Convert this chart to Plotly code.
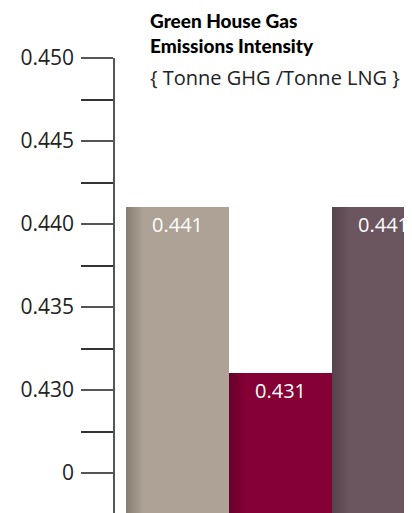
import plotly.graph_objects as go

categories = ["A", "B", "C"]
values = [0.441, 0.431, 0.441]
labels = ["0.441", "0.431", "0.441"]
tick_vals = [0.425, 0.430, 0.435, 0.440, 0.445, 0.450]
tick_text = ["0", "0.430", "0.435", "0.440", "0.445", "0.450"]
minor_vals = [0.4275, 0.4325, 0.4375, 0.4425, 0.4475]

dark = [(137, 127, 118), (106, 0, 45), (86, 68, 78)]
main = [(173, 162, 149), (133, 0, 53), (107, 85, 94)]

fig = go.Figure()
steps = 8
for k in range(steps + 1):
    t = k / steps
    cols = []
    for d, m in zip(dark, main):
        c = tuple(int(d[i] + (m[i] - d[i]) * t) for i in range(3))
        cols.append("rgb(%d,%d,%d)" % c)
    off = -0.5 + k * 0.02
    fig.add_trace(go.Bar(
        x=categories, y=values, width=1 - k * 0.02, offset=off,
        marker=dict(color=cols, line=dict(width=0)),
        hoverinfo="skip", showlegend=False))

for c, v, l in zip(categories, values, labels):
    fig.add_annotation(x=c, y=v, text=l, showarrow=False, yshift=-17,
                       font=dict(family="Open Sans, sans-serif", size=20, color="white"))

fig.add_annotation(xref="paper", yref="paper", x=0.108, y=1.082, xanchor="left", yanchor="middle",
                   text="Green House Gas", showarrow=False,
                   font=dict(family="Lato, sans-serif", size=19, color="black", weight=900))
fig.add_annotation(xref="paper", yref="paper", x=0.108, y=1.026, xanchor="left", yanchor="middle",
                   text="Emissions Intensity", showarrow=False,
                   font=dict(family="Lato, sans-serif", size=19, color="black", weight=900))
fig.add_annotation(xref="paper", yref="paper", x=0.108, y=0.957, xanchor="left", yanchor="middle",
                   text="{ Tonne GHG /Tonne LNG }", showarrow=False,
                   font=dict(family="Open Sans, sans-serif", size=20, color="#222"))

fig.update_layout(
    width=412, height=513,
    margin=dict(l=107, r=0, t=50, b=0),
    barmode="overlay", bargap=0,
    plot_bgcolor="white", paper_bgcolor="white",
    xaxis=dict(range=[-0.602, 2.359], showticklabels=False, showgrid=False, zeroline=False,
               showline=False, ticks=""),
    yaxis=dict(range=[0.42211, 0.45], tickvals=tick_vals, ticktext=tick_text,
               showgrid=False, zeroline=False, showline=True, linecolor="#555", linewidth=1.5,
               ticks="outside", ticklen=32, tickcolor="#555", tickwidth=1.5,
               ticklabelstandoff=3,
               tickfont=dict(family="Open Sans, sans-serif", size=21, color="#222"),
               minor=dict(tickvals=minor_vals, ticks="outside", ticklen=32, tickcolor="#333", tickwidth=1.5)),
)
fig.write_html("out.html")
